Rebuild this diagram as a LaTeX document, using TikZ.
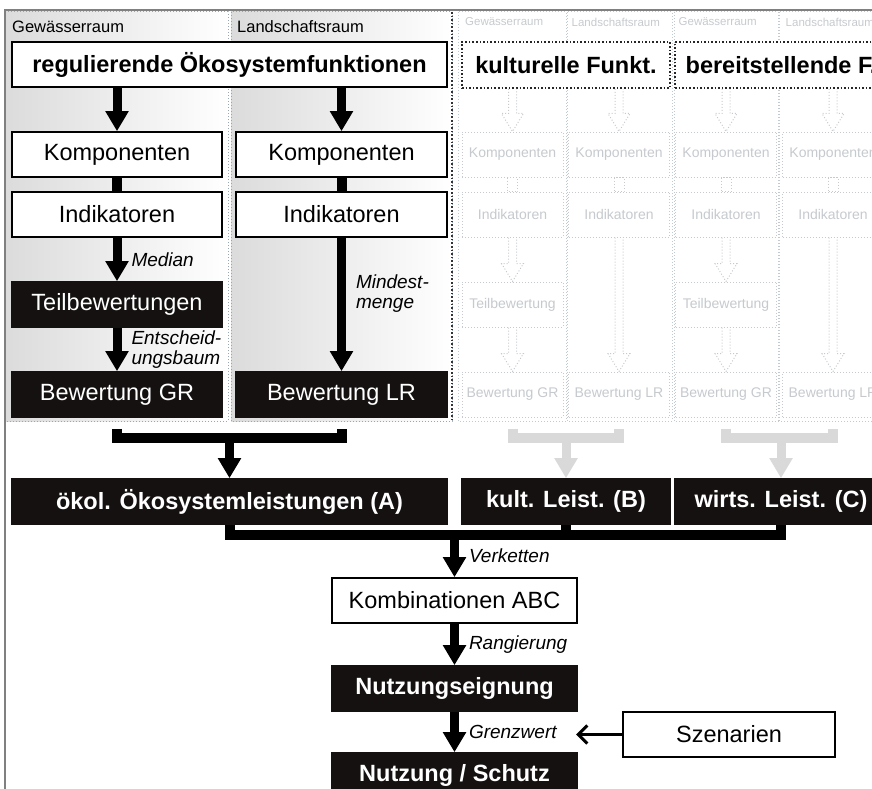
\documentclass[tikz,border=0pt]{standalone}
\usepackage{fontspec}
\setmainfont{Liberation Sans}
\usetikzlibrary{arrows.meta,calc}

\definecolor{paneldot}{HTML}{9AA6B2}
\definecolor{ghost}{HTML}{C6CACE}
\definecolor{boxblack}{HTML}{151111}

\tikzset{
  box/.style={draw, line width=1.6pt, fill=white, minimum height=45pt, inner sep=0pt,
    font=\fontsize{23.5}{26}\selectfont},
  boldbox/.style={box, font=\fontsize{23.5}{26}\selectfont\bfseries},
  dark/.style={box, draw=boxblack, fill=boxblack, text=white},
  darkbold/.style={boldbox, draw=boxblack, fill=boxblack, text=white},
  ghostbox/.style={draw=ghost, dotted, line width=1pt, fill=white, minimum width=101pt,
    minimum height=45pt, inner sep=0pt, text=ghost, font=\fontsize{14}{16}\selectfont},
  ghosttitle/.style={draw=black!85, dotted, line width=1.6pt, fill=white, minimum height=46pt,
    inner sep=0pt, font=\fontsize{23.5}{26}\selectfont\bfseries},
  ghostline/.style={ghost, dotted, line width=1pt},
  flow/.style={line width=9pt, -{Triangle[length=20pt,width=22pt]}},
  thickbar/.style={line width=10pt},
  grayflow/.style={flow, gray!30},
  graybar/.style={thickbar, gray!30},
  lbl/.style={right, inner sep=0pt, xshift=10pt, align=left,
    font=\fontsize{19}{20}\selectfont\itshape},
  room/.style={anchor=west, inner sep=0pt, font=\fontsize{16.5}{18}\selectfont},
  ghostroom/.style={anchor=west, inner sep=0pt, text=ghost, font=\fontsize{11.5}{13}\selectfont},
}

\newcommand{\ghostarrow}[2]{%
  \draw[ghostline] let \p1=(#1), \p2=(#2) in
    (\x2-4pt,\y1) -- (\x2-4pt,\y2+18pt) -- (\x2-11pt,\y2+18pt) -- (\x2,\y2)
    -- (\x2+11pt,\y2+18pt) -- (\x2+4pt,\y2+18pt) -- (\x2+4pt,\y1);}

\begin{document}
\begin{tikzpicture}[x=1pt,y=-1pt]
\useasboundingbox (0,0) rectangle (872,789);

\shade[left color=gray!28, right color=white] (5,12) rectangle (228,421);
\shade[left color=gray!28, right color=white] (231,12) rectangle (452,421);
\draw[paneldot, dotted, line width=1pt] (5,12) rectangle (228,421);
\draw[paneldot, dotted, line width=1pt] (231,12) rectangle (452,421);
\draw[black!80, dotted, line width=1.6pt] (452,12) -- (452,421);
\foreach \a/\b in {458/566, 567/672, 674/778, 779/890}
{
  \draw[paneldot!60, dotted, line width=1pt] (\a,12) rectangle (\b,421);
}
\draw[gray, line width=2pt] (5,789) -- (5,10) -- (872,10);

\node[room] (gew) at (12,27) {Gewässerraum};
\node[room] (land) at (237,27) {Landschaftsraum};
\node[boldbox, minimum width=435pt] (reg) at (229.5,64.5) {regulierende Ökosystemfunktionen};
\node[box, minimum width=210pt] (kompG) at (117,154.5) {Komponenten};
\node[box, minimum width=211pt] (kompL) at (341.5,154.5) {Komponenten};
\node[box, minimum width=210pt] (indG) at (117,214.5) {Indikatoren};
\node[box, minimum width=211pt] (indL) at (341.5,214.5) {Indikatoren};
\node[dark, minimum width=210pt] (teilG) at (117,304.5) {Teilbewertungen};
\node[dark, minimum width=210pt] (bewG) at (117,394.5) {Bewertung GR};
\node[dark, minimum width=211pt] (bewL) at (341.5,394.5) {Bewertung LR};

\draw[flow] (reg.south -| kompG) -- (kompG);
\draw[flow] (reg.south -| kompL) -- (kompL);
\draw[thickbar] (kompG) -- (indG);
\draw[thickbar] (kompL) -- (indL);
\draw[flow] (indG) -- node[lbl] {Median} (teilG);
\draw[flow] (teilG) -- node[lbl] {Entscheid-\\ungsbaum} (bewG);
\draw[flow] (indL) -- node[lbl, pos=0.42] {Mindest-\\menge} (bewL);

\node[ghosttitle, minimum width=208pt] (kultF) at (566,65) {kulturelle Funkt.};
\node[ghosttitle, minimum width=212pt] (bereitF) at (781,65) {bereitstellende F.};

\foreach \cx/\room/\kind [count=\i] in {512.5/Gewässerraum/GR, 619/Landschaftsraum/LR,
  726/Gewässerraum/GR, 833/Landschaftsraum/LR}
{
  \node[ghostroom] (room\i) at (\cx-47.5,22) {\room};
  \node[ghostbox] (komp\i) at (\cx,154.5) {Komponenten};
  \node[ghostbox] (ind\i) at (\cx,214.5) {Indikatoren};
  \node[ghostbox] (bew\i) at (\cx,394.5) {Bewertung \kind};
  \draw[ghostline] ([xshift=-5pt]komp\i.south) rectangle ([xshift=5pt]ind\i.north);
}
\ghostarrow{kultF.south}{komp1.north}
\ghostarrow{kultF.south}{komp2.north}
\ghostarrow{bereitF.south}{komp3.north}
\ghostarrow{bereitF.south}{komp4.north}
\foreach \i in {1,3}
{
  \node[ghostbox] (teil\i) at (komp\i |- 0,304.5) {Teilbewertung};
  \ghostarrow{ind\i.south}{teil\i.north}
  \ghostarrow{teil\i.south}{bew\i.north}
}
\foreach \i in {2,4}
{
  \ghostarrow{ind\i.south}{bew\i.north}
}

\node[darkbold, minimum width=435pt] (oek) at (229.5,501.5) {ökol. Ökosystemleistungen (A)};
\node[darkbold, minimum width=208pt] (kult) at (566,501.5) {kult. Leist. (B)};
\node[darkbold, minimum width=212pt] (wirt) at (781,501.5) {wirts. Leist. (C)};

\coordinate (brkA) at (oek |- 0,438);
\coordinate (brkB) at (kult |- 0,438);
\coordinate (brkC) at (wirt |- 0,438);
\draw[thickbar] ([yshift=-11pt]bewG.south) |- (brkA) -| ([yshift=-11pt]bewL.south);
\draw[flow] (brkA) -- (oek);
\draw[graybar] ([yshift=-11pt]bew1.south) |- (brkB) -| ([yshift=-11pt]bew2.south);
\draw[grayflow] (brkB) -- (kult);
\draw[graybar] ([yshift=-11pt]bew3.south) |- (brkC) -| ([yshift=-11pt]bew4.south);
\draw[grayflow] (brkC) -- (wirt);

\node[box, minimum width=245pt] (komb) at (454.5,600.5) {Kombinationen ABC};
\node[darkbold, minimum width=245pt] (eign) at (454.5,688.5) {Nutzungseignung};
\node[darkbold, minimum width=245pt] (schutz) at (454.5,775.5) {Nutzung / Schutz};
\node[box, minimum width=212pt] (szen) at (729,734.5) {Szenarien};

\coordinate (jn) at (komb |- 0,535);
\draw[thickbar] (oek.south) |- (jn) -| (wirt.south);
\draw[thickbar] (kult) -- (kult |- jn);
\draw[flow] (jn) -- node[lbl] {Verketten} (komb);
\draw[flow] (komb) -- node[lbl] {Rangierung} (eign);
\draw[flow] (eign) -- node[lbl] (grenz) {Grenzwert} (schutz);
\draw[line width=3pt, shorten >=15pt, -{Straight Barb[length=9pt,width=18pt]}]
  (szen) -- (szen -| grenz.east);
\end{tikzpicture}
\end{document}
